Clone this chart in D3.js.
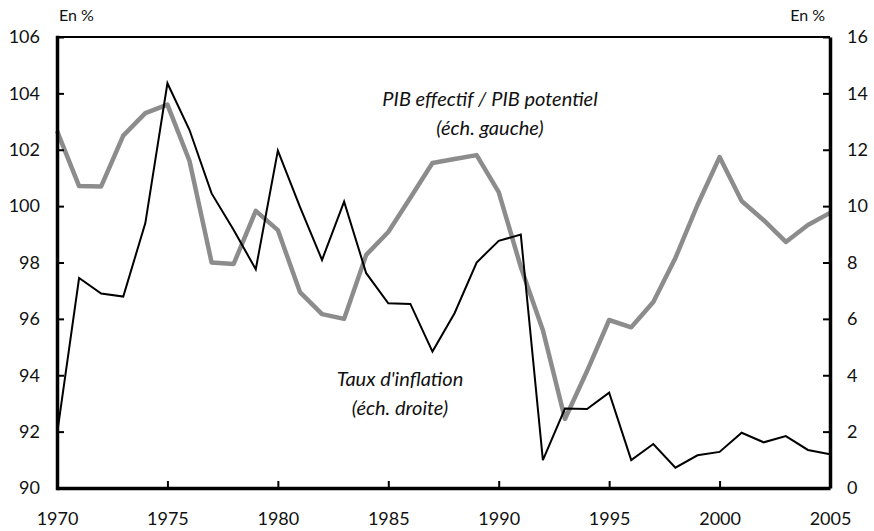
<!DOCTYPE html>
<html>
<head>
<meta charset="utf-8">
<script src="https://cdn.jsdelivr.net/npm/d3@7"></script>
<style>
  body { margin: 0; background: #fff; }
  svg text { font-family: Lato, "Open Sans", sans-serif; fill: #111; }
</style>
</head>
<body>
<script>
// annees 1970-2005
var years = d3.range(1970, 2006);

// PIB effectif / PIB potentiel (echelle gauche)
var pib = [102.67, 100.71, 100.7, 102.5, 103.3, 103.6, 101.6, 98.0, 97.95, 99.83,
           99.15, 96.95, 96.17, 96.0, 98.27, 99.08, 100.3, 101.53, 101.67, 101.81,
           100.5, 97.84, 95.6, 92.45, 94.15, 95.96, 95.7, 96.6, 98.16, 100.04,
           101.74, 100.18, 99.5, 98.73, 99.33, 99.76];

// Taux d'inflation (echelle droite)
var inflation = [1.9, 7.45, 6.9, 6.79, 9.4, 14.36, 12.7, 10.45, 9.15, 7.76,
                 11.97, 9.97, 8.09, 10.16, 7.62, 6.55, 6.53, 4.84, 6.2, 8.0,
                 8.77, 8.99, 0.99, 2.82, 2.8, 3.38, 0.99, 1.56, 0.72, 1.16,
                 1.28, 1.96, 1.62, 1.84, 1.35, 1.2];

var leftTicks = d3.range(90, 107, 2);
var rightTicks = d3.range(0, 17, 2);
var xTicks = d3.range(1970, 2006, 5);

var margin = {top: 37, right: 44, bottom: 43, left: 57},
    width = 874 - margin.left - margin.right,
    height = 531 - margin.top - margin.bottom;

var svg = d3.select("body").append("svg")
    .attr("width", 874)
    .attr("height", 531);

var g = svg.append("g")
    .attr("transform", "translate(" + margin.left + "," + margin.top + ")");

var x = d3.scaleLinear().domain([1970, 2005]).range([0, width]);
var yL = d3.scaleLinear().domain([90, 106]).range([height, 0]);
var yR = d3.scaleLinear().domain([0, 16]).range([height, 0]);

// lines
var linePib = d3.line()
    .x(function(d, i) { return x(years[i]); })
    .y(function(d) { return yL(d); });
var lineInf = d3.line()
    .x(function(d, i) { return x(years[i]); })
    .y(function(d) { return yR(d); });

g.append("path")
    .datum(pib)
    .attr("fill", "none")
    .attr("stroke", "#8c8c8c")
    .attr("stroke-width", 4.5)
    .attr("stroke-linejoin", "round")
    .attr("d", linePib);

g.append("path")
    .datum(inflation)
    .attr("fill", "none")
    .attr("stroke", "#000")
    .attr("stroke-width", 2)
    .attr("d", lineInf);

// frame
g.append("line").attr("x1", 0).attr("x2", width).attr("y1", 0).attr("y2", 0)
    .attr("stroke", "#000").attr("stroke-width", 2);

// axes (ticks inward)
var axL = g.append("g")
    .call(d3.axisLeft(yL).tickValues(leftTicks).tickSizeInner(-7).tickSizeOuter(0).tickPadding(17));
var axR = g.append("g")
    .attr("transform", "translate(" + width + ",0)")
    .call(d3.axisRight(yR).tickValues(rightTicks).tickSizeInner(-7).tickSizeOuter(0).tickPadding(17));
var axB = g.append("g")
    .attr("transform", "translate(0," + height + ")")
    .call(d3.axisBottom(x).tickValues(xTicks).tickFormat(d3.format("d")).tickSizeInner(-7).tickSizeOuter(0).tickPadding(24));

[axL, axR, axB].forEach(function(a) {
    a.select(".domain").attr("stroke", "#000").attr("stroke-width", 3.5);
    a.selectAll(".tick line").attr("stroke", "#000").attr("stroke-width", 2);
    a.selectAll(".tick text")
        .style("font-family", "Lato, 'Open Sans', sans-serif")
        .style("font-size", "18px")
        .attr("fill", "#111");
});
axL.select(".domain").attr("stroke-linecap", "square");

// unit labels
svg.append("text").attr("x", 59).attr("y", 21).style("font-size", "16px").text("En %");
svg.append("text").attr("x", 825).attr("y", 21).attr("text-anchor", "end").style("font-size", "16px").text("En %");

// series labels
function seriesLabel(cx, cy, lines) {
    lines.forEach(function(t, i) {
        svg.append("text")
            .attr("x", cx).attr("y", cy + i * 29)
            .attr("text-anchor", "middle")
            .style("font-style", "italic")
            .style("font-size", "20px")
            .text(t);
    });
}
seriesLabel(490, 106, ["PIB effectif / PIB potentiel", "(éch. gauche)"]);
seriesLabel(400, 386, ["Taux d'inflation", "(éch. droite)"]);
</script>
</body>
</html>
